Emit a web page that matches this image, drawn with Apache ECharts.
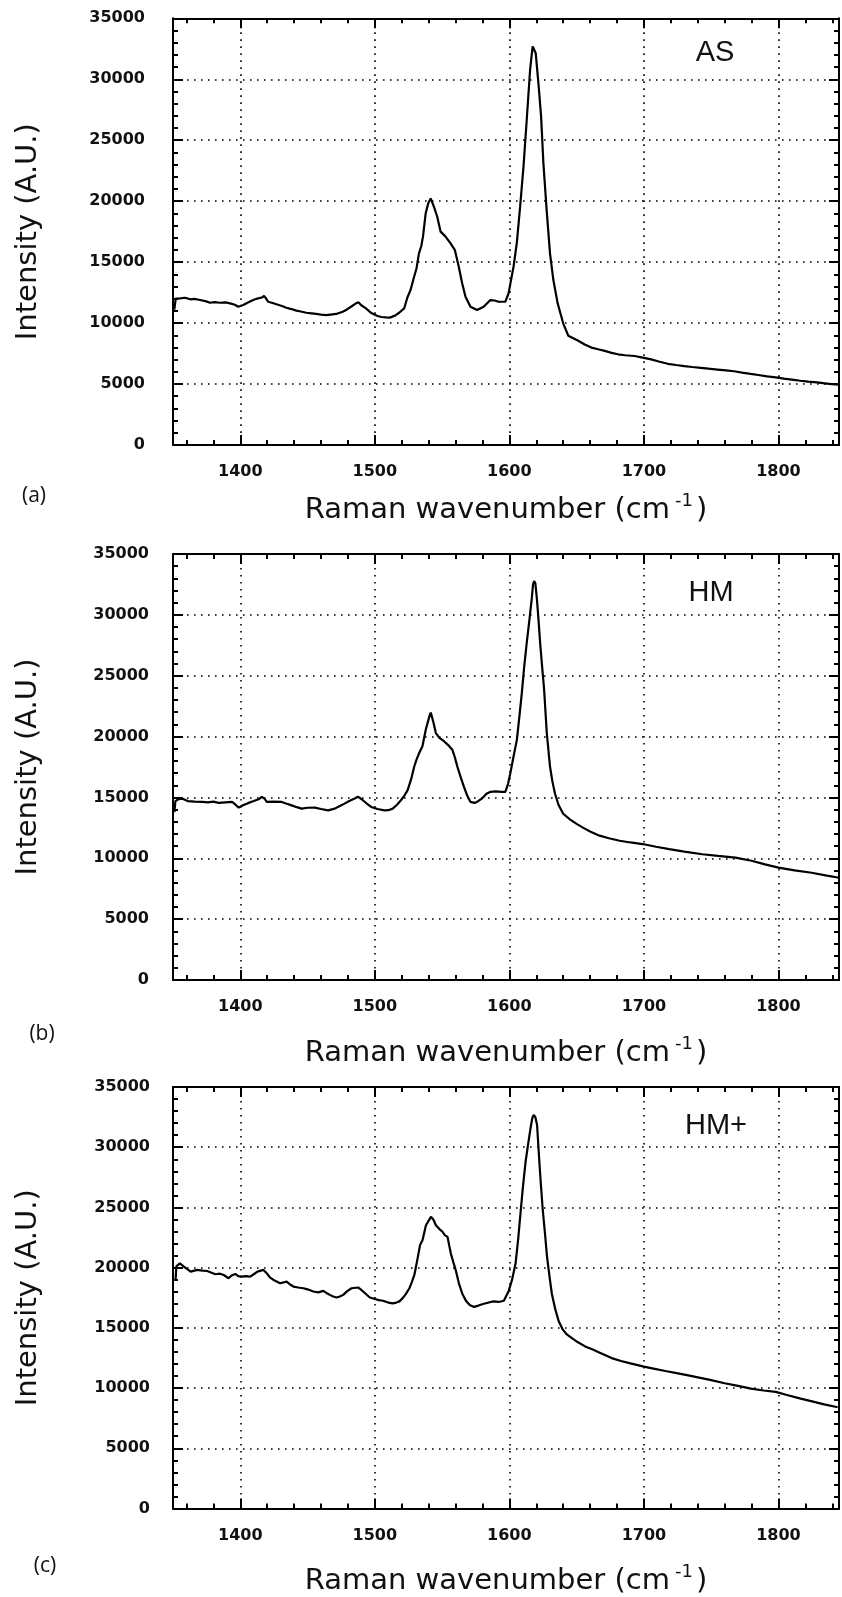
<!DOCTYPE html>
<html><head><meta charset="utf-8">
<script src="https://cdn.jsdelivr.net/npm/echarts@6/dist/echarts.min.js"></script>
<style>html,body{margin:0;padding:0;background:#fff}#c{width:842px;height:1597px}</style>
</head><body><div id="c"></div>
<script>
// ---------- data ----------
const xTitle = 'Raman wavenumber (cm';
const xTitleSup = '-1';
const yTitle = 'Intensity (A.U.)';
const panelTags = ['AS', 'HM', 'HM+'];
const panelLetters = ['(a)', '(b)', '(c)'];
const xRange = [1350, 1845];
const yRange = [0, 35000];
const yStep = 5000;

const wnA = [1351,1352,1355.4,1359,1362.8,1366,1370.2,1374,1377.6,1381,1385,1389,1392.4,1396,1398.5,1400.5,1402.2,1405,1408.4,1411,1413.3,1416,1417.7,1419,1420.7,1424,1426.9,1431,1434.3,1438,1441.7,1445,1449.1,1453,1456.5,1460,1463.9,1467,1471.3,1476.1,1479,1482.3,1486,1488,1489.7,1493.4,1497.1,1502,1505,1508.2,1511,1513.1,1515.5,1518.1,1521.8,1524.2,1526.5,1529.2,1531,1532.8,1534.5,1535.8,1537.8,1539.7,1541.5,1543.9,1546.4,1548.9,1552.6,1556.3,1559.5,1562.4,1564.9,1567.4,1571.1,1576,1580.9,1585.9,1589,1592,1597,1599.4,1603.1,1605.5,1608,1610.5,1612.9,1615.4,1617.3,1618.4,1619.6,1621.6,1623.6,1625.3,1627.7,1630.2,1632.7,1635.9,1640,1643.8,1651.2,1656,1661,1666,1670.9,1676,1680.7,1686,1693,1700,1705.4,1711,1717.7,1724,1730,1736,1742.3,1748,1754.7,1761,1767,1773,1779.3,1785,1791.6,1798,1804,1810,1816.3,1822,1828.6,1836,1844];
const intA = [11100,12000,12030,12080,11950,11980,11890,11800,11670,11720,11670,11700,11620,11500,11340,11420,11480,11650,11830,11950,12030,12100,12220,12050,11750,11650,11540,11400,11260,11150,11020,10950,10850,10800,10750,10700,10660,10700,10750,10930,11100,11340,11620,11700,11480,11210,10850,10580,10500,10470,10450,10530,10650,10850,11200,12100,12700,13800,14500,15720,16300,17090,19000,19820,20230,19550,18720,17500,17090,16540,15990,14620,13260,12160,11340,11070,11340,11890,11850,11750,11750,12440,14620,16540,19550,22830,26660,30760,32700,32850,32130,29670,26930,23100,19280,15720,13530,11620,9980,8960,8550,8250,7990,7850,7720,7560,7440,7360,7300,7150,7020,6850,6660,6560,6470,6400,6330,6260,6190,6120,6050,5940,5830,5740,5630,5540,5440,5360,5270,5200,5130,5040,4940];

const wnB = [1351,1351.8,1354,1357,1361,1366,1371.7,1376,1380,1384,1389,1393.9,1396.5,1398.8,1402,1406.2,1410,1413.6,1416,1418,1419.7,1425,1430.8,1434,1438.2,1442,1445.6,1450,1455.4,1460,1465.3,1470.2,1474,1477.5,1481,1485,1487.4,1489,1491.1,1494,1497.3,1502,1507.1,1510,1513.3,1516.5,1519.4,1522,1524.4,1527,1529.3,1531,1533,1535.4,1537.9,1540.9,1541.6,1543.5,1545.3,1548,1551.4,1554.5,1557.6,1559.5,1561.3,1564,1566.2,1568.5,1571.1,1574,1576,1580,1583,1586,1590,1594,1597,1599,1600.7,1603,1605.6,1607.5,1609.3,1611,1613,1615,1616.7,1617.6,1618.4,1619.3,1620.4,1621.6,1622.8,1624.3,1625.8,1627.8,1630.2,1632,1633.9,1636.5,1640,1645,1650,1655,1660,1667,1674,1682,1690,1699,1709,1718.8,1730,1743.4,1755,1768,1780,1790,1800,1812,1824.7,1835,1845];
const intB = [13800,14700,14850,14900,14700,14650,14630,14600,14650,14550,14600,14630,14400,14160,14350,14550,14700,14850,15050,14900,14630,14650,14630,14500,14350,14200,14080,14150,14160,14050,13940,14080,14300,14490,14700,14910,15050,14950,14770,14500,14220,14050,13940,13950,14080,14400,14770,15150,15600,16500,17540,18100,18650,19200,20580,21800,21970,21200,20310,19900,19620,19300,18920,18300,17540,16600,15880,15200,14630,14550,14630,14950,15300,15460,15500,15450,15460,16100,16980,18300,19750,21700,23630,25700,27790,29700,31390,32500,32780,32600,31390,29700,27790,25800,23910,20310,17540,16300,15320,14400,13660,13200,12830,12500,12200,11860,11650,11440,11300,11170,10950,10750,10550,10330,10200,10060,9800,9500,9230,9000,8810,8600,8400];

const wnC = [1351.9,1352.5,1355.1,1358.1,1363.1,1368,1372,1375.4,1381.5,1385,1387.7,1391.3,1393.5,1396.3,1398.5,1401.2,1404,1407.4,1410,1412.8,1417.2,1419.7,1422,1424.7,1429.6,1434.5,1437,1439.5,1443,1446.9,1450,1454.3,1458,1461.7,1464,1466.6,1469,1471.6,1474,1476.5,1479.5,1482.7,1487.6,1489.5,1491.3,1494,1496.3,1500,1503,1506,1510,1513.3,1516,1518.3,1520.7,1523,1525.7,1527.5,1529.4,1531.8,1533.6,1535.5,1538,1539.5,1541.7,1543.5,1545.4,1548,1550.3,1552,1554,1556.5,1558.5,1560.2,1562.5,1565.1,1568,1570.5,1573.8,1577,1581,1584.8,1588,1592,1595.9,1599.6,1602,1604.6,1606.5,1608.3,1610,1612,1614,1615.7,1617,1618.1,1619.3,1620.6,1622.3,1623.5,1624.8,1626.5,1628,1629.8,1631.6,1634,1636.6,1639.5,1642.7,1647,1651,1656.3,1662,1668,1676,1683,1690,1700,1708,1716,1725.3,1733,1741,1750,1760,1770,1779.5,1789,1798,1807,1816.5,1825,1834,1844];
const intC = [18980,20100,20360,20080,19670,19810,19750,19720,19450,19500,19390,19120,19350,19480,19300,19260,19300,19260,19450,19670,19810,19530,19200,18980,18700,18840,18600,18430,18350,18290,18200,18020,17950,18070,17900,17740,17600,17520,17600,17740,18050,18290,18350,18200,18020,17750,17520,17400,17300,17250,17100,17030,17100,17200,17470,17800,18290,18800,19390,20770,21870,22300,23520,23800,24220,24000,23520,23200,22980,22700,22560,21180,20400,19770,18700,17810,17200,16900,16740,16850,17000,17110,17200,17150,17250,18090,19000,20340,22300,24540,26600,28750,30300,31550,32400,32680,32500,31840,28750,26800,24820,22800,20900,19300,17810,16600,15570,14900,14450,14100,13800,13460,13200,12900,12490,12250,12050,11780,11600,11420,11220,11050,10870,10660,10400,10180,9960,9800,9680,9400,9120,8900,8650,8410];

const spectra = [[wnA, intA], [wnB, intB], [wnC, intC]];

// ---------- layout / style ----------
const FONT = 'DejaVu Sans';
const panels = [
  {top: 18.3, height: 426.7, yLabMargin: 28, xNameGap: 47,
   tag: [715, 53], letter: [34, 496]},
  {top: 554, height: 426, yLabMargin: 24, xNameGap: 55, 
   tag: [711, 593], letter: [42, 1034]},
  {top: 1087, height: 423, yLabMargin: 23, xNameGap: 55,
   tag: [716, 1126], letter: [45, 1566]}
];
const LEFT = 173;
const black = '#000';
const gridDots = {color: black, width: 1.6, type: [1.6, 5.4]};

const grids = [], xAxes = [], yAxes = [], series = [], graphics = [];

panels.forEach((p, i) => {
  grids.push({left: LEFT, right: 0, top: p.top, height: p.height, containLabel: false});
  const tickCommon = {
    axisLine: {show: true, onZero: false, lineStyle: {color: black, width: 2}},
    axisTick: {show: true, inside: true, length: 10, lineStyle: {color: black, width: 2}},
    minorTick: {show: true, splitNumber: 5, length: 5, lineStyle: {color: black, width: 2}}
  };
  const labelStyle = {fontFamily: FONT, fontSize: 16, color: '#111', fontWeight: 'bold'};
  // bottom x
  xAxes.push(Object.assign({
    type: 'value', gridIndex: i, position: 'bottom', min: xRange[0], max: xRange[1],
    splitLine: {show: true, showMinLine: false, showMaxLine: false, lineStyle: gridDots},
    axisLabel: Object.assign({show: true, margin: 19,
      formatter: v => (v % 100 === 0 ? String(v) : '')}, labelStyle),
    name: '{t|' + xTitle + '}{s|' + xTitleSup + '}{t|)}',
    nameLocation: 'middle', nameGap: p.xNameGap,
    nameTextStyle: {rich: {
      t: {fontFamily: FONT, fontSize: 29, color: '#111', lineHeight: 36},
      s: {fontFamily: FONT, fontSize: 18, color: '#111', lineHeight: 17,
          verticalAlign: 'top', padding: [0, 3, 0, 5]}
    }}
  }, tickCommon));
  // top x (frame)
  xAxes.push(Object.assign({
    type: 'value', gridIndex: i, position: 'top', min: xRange[0], max: xRange[1],
    splitLine: {show: false}, axisLabel: {show: false}
  }, tickCommon));
  // left y
  yAxes.push(Object.assign({
    type: 'value', gridIndex: i, position: 'left', min: yRange[0], max: yRange[1], interval: yStep,
    splitLine: {show: true, showMinLine: false, showMaxLine: false, lineStyle: gridDots},
    axisLabel: Object.assign({show: true, margin: p.yLabMargin, formatter: v => String(v)}, labelStyle),
    name: yTitle, nameLocation: 'middle', nameGap: 130, nameRotate: 90,
    nameTextStyle: {fontFamily: FONT, fontSize: 29, color: '#111'}
  }, tickCommon));
  // right y (frame)
  yAxes.push(Object.assign({
    type: 'value', gridIndex: i, position: 'right', min: yRange[0], max: yRange[1], interval: yStep,
    splitLine: {show: false}, axisLabel: {show: false}
  }, tickCommon));

  const [wn, inten] = spectra[i];
  series.push({
    type: 'line', xAxisIndex: i * 2, yAxisIndex: i * 2,
    data: wn.map((w, k) => [w, inten[k]]),
    symbol: 'none', lineStyle: {color: black, width: 2.2}, clip: true, animation: false
  });

  graphics.push({type: 'text', x: p.tag[0], y: p.tag[1],
    style: {text: panelTags[i], fill: '#111', font: '29px "Liberation Sans"',
            align: 'center', verticalAlign: 'middle'}});
  graphics.push({type: 'text', x: p.letter[0], y: p.letter[1],
    style: {text: panelLetters[i], fill: '#111', font: '21px "Open Sans"',
            align: 'center', verticalAlign: 'middle'}});
});

const chart = echarts.init(document.getElementById('c'), null, {renderer: 'canvas'});
chart.setOption({
  animation: false,
  backgroundColor: '#fff',
  grid: grids, xAxis: xAxes, yAxis: yAxes, series: series,
  graphic: graphics
});
</script></body></html>
